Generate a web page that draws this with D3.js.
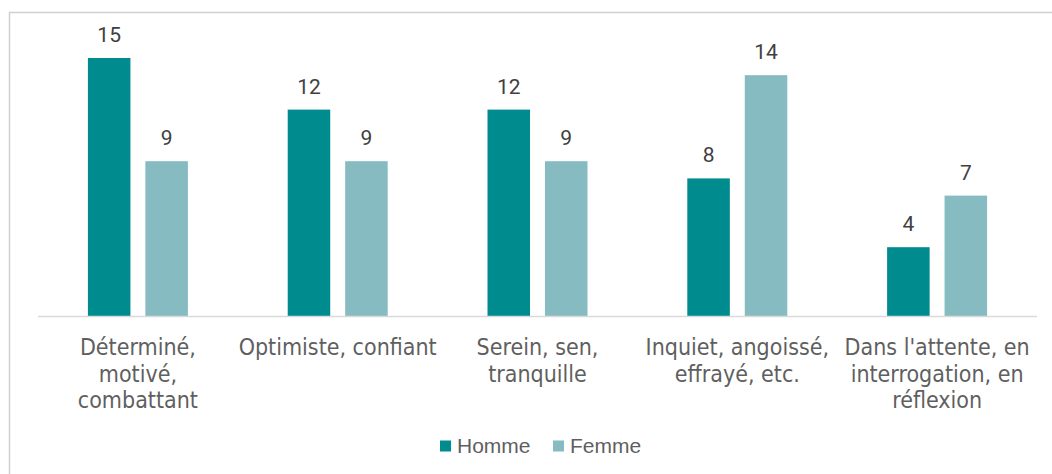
<!DOCTYPE html>
<html>
<head>
<meta charset="utf-8">
<script src="https://cdn.jsdelivr.net/npm/d3@7"></script>
<style>
  body { margin: 0; background: #fff; }
  svg { display: block; }
  .cat { font-family: 'DejaVu Sans Condensed', 'DejaVu Sans', sans-serif; font-stretch: condensed; fill: #5f5f5f; }
  .val { font-family: Roboto, sans-serif; fill: #404040; }
  .leg { font-family: 'Liberation Sans', sans-serif; fill: #5f5f5f; }
</style>
</head>
<body>
<svg id="chart" width="1052" height="474"></svg>
<script>
const categories = [
  ['Déterminé,', 'motivé,', 'combattant'],
  ['Optimiste, confiant'],
  ['Serein, sen,', 'tranquille'],
  ['Inquiet, angoissé,', 'effrayé, etc.'],
  ['Dans l\'attente, en', 'interrogation, en', 'réflexion']
];
const series = ['Homme', 'Femme'];
const homme = [15, 12, 12, 8, 4];
const femme = [9, 9, 9, 14, 7];
const colors = ['#008B8F', '#86BCC1'];

const width = 1052;
const height = 474;
const left = 38;
const right = 1037;
const baseY = 316;

const rows = categories.map((c, i) => ({ key: i, lines: c, values: [homme[i], femme[i]] }));

const svg = d3.select('#chart');

// frame (only left and top edges are visible)
svg.append('path')
  .attr('d', `M9.5,${height} V12.5 H${width}`)
  .attr('fill', 'none')
  .attr('stroke', '#D0D0D0')
  .attr('stroke-width', 1.5);

const xscale = d3.scaleBand()
  .domain(rows.map((d) => d.key))
  .range([left, right])
  .padding(0);

const inner = d3.scaleBand()
  .domain(series)
  .range([xscale.bandwidth() / 2 - 50, xscale.bandwidth() / 2 + 50])
  .paddingInner(0.26)
  .paddingOuter(0);

const yscale = d3.scaleLinear()
  .domain([0, 15])
  .range([baseY, 58]);

const color = d3.scaleOrdinal().domain(series).range(colors);

const groups = svg.append('g')
  .selectAll('g')
  .data(rows)
  .enter()
  .append('g')
  .attr('transform', (d) => `translate(${xscale(d.key)}, 0)`);

groups.selectAll('rect')
  .data((d) => d.values.map((v, j) => ({ s: series[j], v })))
  .enter()
  .append('rect')
  .attr('x', (d) => inner(d.s))
  .attr('y', (d) => yscale(d.v))
  .attr('width', inner.bandwidth())
  .attr('height', (d) => baseY - yscale(d.v))
  .attr('fill', (d) => color(d.s));

groups.selectAll('text.val')
  .data((d) => d.values.map((v, j) => ({ s: series[j], v })))
  .enter()
  .append('text')
  .attr('class', 'val')
  .attr('x', (d) => inner(d.s) + inner.bandwidth() / 2)
  .attr('y', (d) => yscale(d.v) - 16)
  .attr('text-anchor', 'middle')
  .style('font-size', '21px')
  .text((d) => d.v);

// baseline axis
svg.append('line')
  .attr('x1', left)
  .attr('x2', right)
  .attr('y1', baseY + 0.5)
  .attr('y2', baseY + 0.5)
  .attr('stroke', '#D9D9D9')
  .attr('stroke-width', 1.5);

// category labels
groups.append('text')
  .attr('class', 'cat')
  .attr('text-anchor', 'middle')
  .style('font-size', '23px')
  .selectAll('tspan')
  .data((d) => d.lines)
  .enter()
  .append('tspan')
  .attr('x', xscale.bandwidth() / 2)
  .attr('y', (d, i) => 355 + i * 26.7)
  .text((d) => d);

// legend
const legend = svg.append('g').attr('transform', 'translate(440, 453)');
const legendX = [0, 113];
series.forEach((s, i) => {
  legend.append('rect')
    .attr('x', legendX[i])
    .attr('y', -12.5)
    .attr('width', 11)
    .attr('height', 11)
    .attr('fill', color(s));
  legend.append('text')
    .attr('class', 'leg')
    .attr('x', legendX[i] + 17)
    .attr('y', 0)
    .style('font-size', '21px')
    .text(s);
});
</script>
</body>
</html>
